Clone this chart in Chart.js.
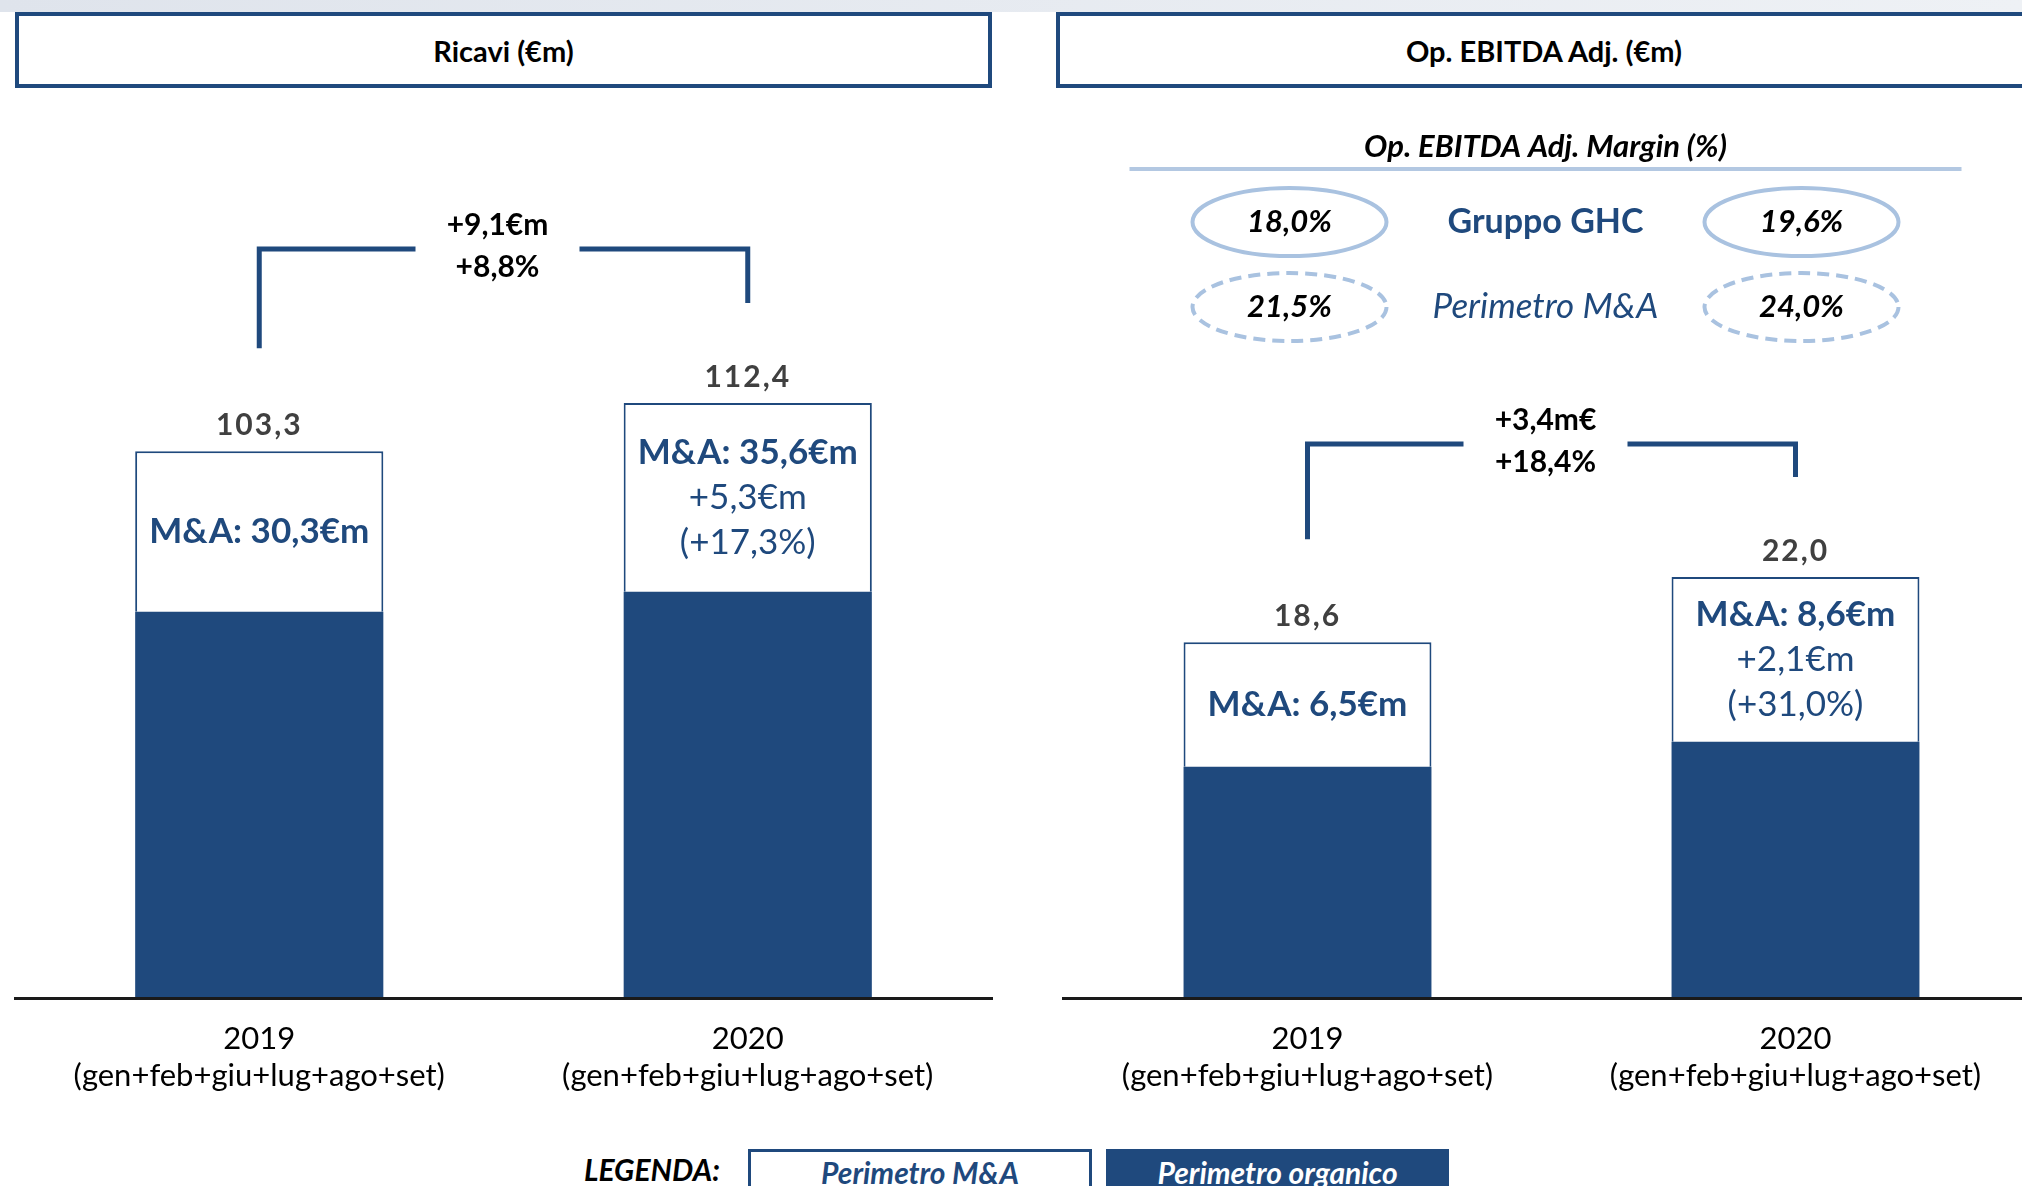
<!DOCTYPE html>
<html lang="it">
<head>
<meta charset="utf-8">
<script src="https://cdn.jsdelivr.net/npm/chart.js@4.4.0/dist/chart.umd.min.js"></script>
<style>
  html, body { margin: 0; padding: 0; width: 2022px; height: 1186px; overflow: hidden; background: #fff; font-family: Lato, 'Open Sans', sans-serif; }
  .banda { position: absolute; left: 0; top: 0; width: 2022px; height: 12px; background: linear-gradient(to right, #dfe4ec, #eef1f5); }
  .titolo { position: absolute; top: 12px; height: 76px; box-sizing: border-box; border: 4px solid #1F497D; background: #fff;
            display: flex; align-items: center; justify-content: center; font-weight: bold; font-size: 29px; color: #000; }
  .grafico { position: absolute; top: 100px; }
  .legenda { position: absolute; top: 1149px; height: 60px; box-sizing: border-box; font-style: italic; font-size: 30px;
             display: flex; align-items: flex-start; justify-content: center; padding-top: 2px; }
</style>
</head>
<body>
<div class="banda"></div>
<div class="titolo" style="left:15px; width:977px;">Ricavi (€m)</div>
<div class="titolo" style="left:1056px; width:976px;">Op. EBITDA Adj. (€m)</div>

<canvas id="graficoRicavi" class="grafico" style="left:0px;" width="1011" height="1020"></canvas>
<canvas id="graficoEbitda" class="grafico" style="left:1011px;" width="1040" height="1020"></canvas>

<div class="legenda" style="left:560px; width:160px; justify-content:flex-end; font-weight:bold; color:#000;">LEGENDA:</div>
<div class="legenda" style="left:748px; width:344px; border:3px solid #1F497D; border-bottom:none; color:#1F497D; background:#fff; font-weight:bold;">Perimetro M&amp;A</div>
<div class="legenda" style="left:1106px; width:343px; background:#1F497D; color:#fff; padding-top:5px; font-weight:bold;">Perimetro organico</div>

<script>
const NAVY = '#1F497D';
const AZZURRO = '#A9C2E0';

const anni = ['2019', '2020'];
const periodo = '(gen+feb+giu+lug+ago+set)';

const ricaviTotale = [103.3, 112.4];
const ricaviOrganico = [73.0, 76.8];
const ricaviMA = [30.3, 35.6];
const ricaviDelta = ['+9,1€m', '+8,8%'];
const ricaviTestiMA = [['M&A: 30,3€m'], ['M&A: 35,6€m', '+5,3€m', '(+17,3%)']];

const ebitdaTotale = [18.6, 22.0];
const ebitdaOrganico = [12.1, 13.4];
const ebitdaMA = [6.5, 8.6];
const ebitdaDelta = ['+3,4m€', '+18,4%'];
const ebitdaTestiMA = [['M&A: 6,5€m'], ['M&A: 8,6€m', '+2,1€m', '(+31,0%)']];

const marginGruppo = [18.0, 19.6];
const marginPerimetro = [21.5, 24.0];

Chart.defaults.font.family = 'Lato';

function virgola(v) {
    return v.toFixed(1).replace('.', ',');
}

function annotazioni(cfg) {
    return {
        id: 'annotazioni',
        afterDraw(chart) {
            const ctx = chart.ctx;
            const sx = chart.scales.x;
            const sy = chart.scales.y;
            const xs = cfg.totale.map((v, i) => sx.getPixelForValue(i));
            const tops = cfg.totale.map(v => sy.getPixelForValue(v));

            ctx.save();
            ctx.textAlign = 'center';
            ctx.textBaseline = 'middle';

            // valori totali sopra le barre
            ctx.fillStyle = '#404040';
            ctx.font = 'bold 30px Lato';
            ctx.letterSpacing = '2px';
            cfg.totale.forEach((v, i) => ctx.fillText(virgola(v), xs[i], tops[i] - 26));
            ctx.letterSpacing = '0px';

            // testi dentro il blocco M&A
            cfg.testiMA.forEach((righe, i) => {
                const centro = (tops[i] + sy.getPixelForValue(cfg.organico[i])) / 2;
                righe.forEach((r, k) => {
                    ctx.font = (k === 0 ? 'bold ' : '') + '35px Lato';
                    ctx.fillStyle = NAVY;
                    ctx.fillText(r, xs[i], centro + (k - (righe.length - 1) / 2) * 45);
                });
            });

            // parentesi di variazione
            const yb = Math.min(...tops) - cfg.alzata;
            const mid = (xs[0] + xs[1]) / 2 - 6;
            ctx.strokeStyle = NAVY;
            ctx.lineWidth = 5;
            ctx.lineJoin = 'miter';
            ctx.beginPath();
            ctx.moveTo(xs[0], tops[0] - 103);
            ctx.lineTo(xs[0], yb);
            ctx.lineTo(mid - 82, yb);
            ctx.moveTo(mid + 82, yb);
            ctx.lineTo(xs[1], yb);
            ctx.lineTo(xs[1], tops[1] - 100);
            ctx.stroke();
            ctx.fillStyle = '#000';
            ctx.font = 'bold 30px Lato';
            ctx.fillText(cfg.delta[0], mid, yb - 24);
            ctx.fillText(cfg.delta[1], mid, yb + 18);

            // box margini (solo EBITDA)
            if (cfg.margini) {
                ctx.font = 'italic bold 31px Lato';
                ctx.fillStyle = '#000';
                ctx.fillText('Op. EBITDA Adj. Margin (%)', mid, 47);
                ctx.strokeStyle = '#B3C8E2';
                ctx.lineWidth = 4;
                ctx.beginPath();
                ctx.moveTo(mid - 416, 69);
                ctx.lineTo(mid + 416, 69);
                ctx.stroke();

                const righe = [
                    { y: 122, valori: marginGruppo, etichetta: 'Gruppo GHC', font: 'bold 34px Lato', trat: [] },
                    { y: 207, valori: marginPerimetro, etichetta: 'Perimetro M&A', font: 'italic 35px Lato', trat: [12, 7] }
                ];
                righe.forEach(r => {
                    ctx.fillStyle = NAVY;
                    ctx.font = r.font;
                    ctx.fillText(r.etichetta, mid, r.y);
                    r.valori.forEach((v, i) => {
                        const cx = mid + (i === 0 ? -256 : 256);
                        ctx.strokeStyle = AZZURRO;
                        ctx.lineWidth = 4;
                        ctx.setLineDash(r.trat);
                        ctx.beginPath();
                        ctx.ellipse(cx, r.y, 97, 34, 0, 0, Math.PI * 2);
                        ctx.stroke();
                        ctx.setLineDash([]);
                        ctx.fillStyle = '#000';
                        ctx.font = 'italic bold 31px Lato';
                        ctx.fillText(virgola(v) + '%', cx, r.y);
                    });
                });
            }
            ctx.restore();
        }
    };
}

function creaGrafico(id, cfg) {
    new Chart(document.getElementById(id), {
        type: 'bar',
        data: {
            labels: anni.map(a => [a, periodo]),
            datasets: [
                { label: 'Perimetro organico', data: cfg.organico, backgroundColor: NAVY, borderWidth: 0 },
                { label: 'Perimetro M&A', data: cfg.ma, backgroundColor: '#fff', borderColor: NAVY, borderWidth: 2 }
            ]
        },
        options: {
            responsive: false,
            animation: false,
            layout: { padding: { left: cfg.padL, right: cfg.padR, top: 0, bottom: 3 } },
            datasets: { bar: { categoryPercentage: 1, barPercentage: 0.508 } },
            plugins: { legend: { display: false }, tooltip: { enabled: false } },
            scales: {
                x: {
                    stacked: true,
                    grid: { display: false, drawTicks: false },
                    border: { display: true, color: '#1a1a1a', width: 3, z: 1 },
                    ticks: { color: '#000', padding: 22, font: { size: 31, lineHeight: 1.2 } }
                },
                y: { stacked: true, display: false, min: 0, max: cfg.max }
            }
        },
        plugins: [annotazioni(cfg)]
    });
}

creaGrafico('graficoRicavi', {
    totale: ricaviTotale, organico: ricaviOrganico, ma: ricaviMA,
    delta: ricaviDelta, testiMA: ricaviTestiMA,
    max: 169.6, padL: 15, padR: 19, alzata: 154, margini: false
});

creaGrafico('graficoEbitda', {
    totale: ebitdaTotale, organico: ebitdaOrganico, ma: ebitdaMA,
    delta: ebitdaDelta, testiMA: ebitdaTestiMA,
    max: 46.9, padL: 52.5, padR: 11.5, alzata: 133, margini: true
});
</script>
</body>
</html>
